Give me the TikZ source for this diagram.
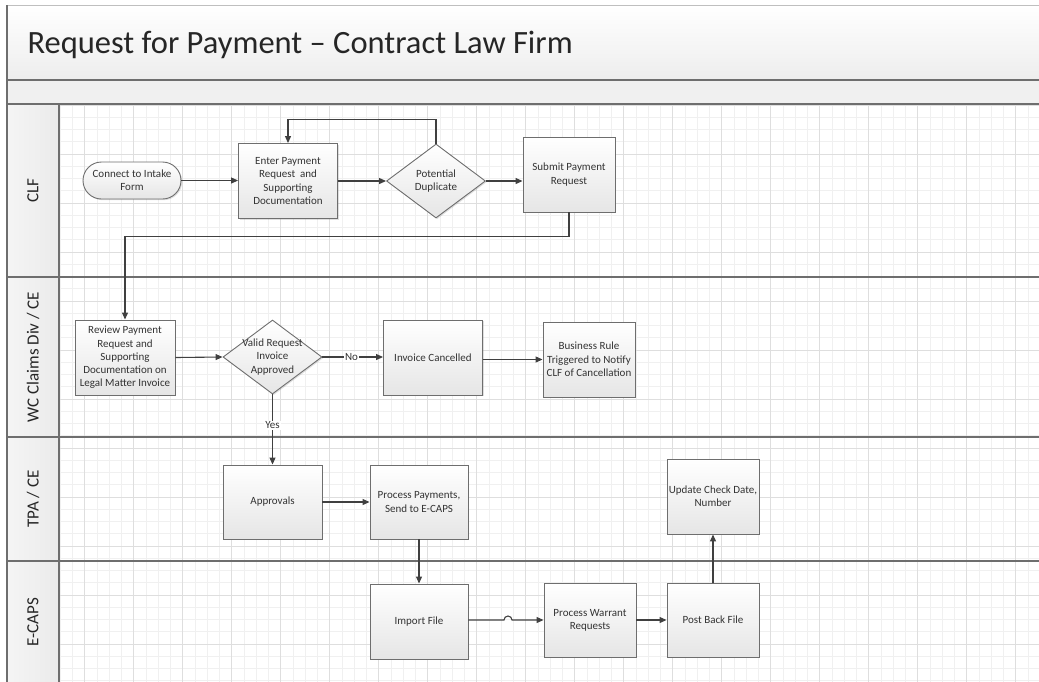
\documentclass[tikz,border=0pt]{standalone}
\usepackage{fontspec}
\setmainfont{Carlito}
\usetikzlibrary{shapes.geometric,shapes.misc,arrows.meta,shadows,calc}
\definecolor{ln}{HTML}{404040}
\definecolor{txt}{HTML}{333333}
\definecolor{frame}{HTML}{6E6E6E}
\definecolor{gminor}{HTML}{F0F0F0}
\definecolor{gmajor}{HTML}{DEDEDE}
\begin{document}
\begin{tikzpicture}[x=1pt,y=-1pt,
  shapebase/.style={draw=frame, line width=0.9pt, top color=white, bottom color=black!10,
    drop shadow={shadow xshift=1.2pt, shadow yshift=-1.2pt, opacity=0.25}},
  box/.style={shapebase, rectangle, minimum width=99, minimum height=75, inner sep=2pt,
    align=center, font=\fontsize{11}{13.3}\selectfont, text=txt},
  stadium/.style={shapebase, rounded rectangle, minimum width=100, minimum height=37,
    inner sep=1pt, align=center, font=\fontsize{11}{13.3}\selectfont, text=txt},
  dia/.style={shapebase, diamond, minimum width=99, minimum height=74, inner sep=0pt},
  dlab/.style={align=center, font=\fontsize{11}{13.3}\selectfont, text=txt},
  arr/.style={draw=ln, line width=1.1pt, -{Triangle[length=7pt,width=6pt]}},
  lane/.style={rotate=90, font=\fontsize{17}{20}\selectfont, text=black!85},
  elab/.style={fill=white, inner sep=1pt, font=\fontsize{11}{13.3}\selectfont, text=txt},
  fr/.style={draw=frame, line width=1.3pt}]
\useasboundingbox (0,0) rectangle (1039,681);
% bands
\fill[top color=white, bottom color=black!7] (7,5) rectangle (1045,80);
\fill[black!6] (7,80) rectangle (1045,104);
\fill[left color=black!4, right color=black!8] (7,104) rectangle (59,690);
% grid
\begin{scope}
\clip (59,104) rectangle (1045,690);
\foreach \i in {0,...,80} {\draw[gminor, line width=0.6pt] (60.2+12.25*\i,104) -- (60.2+12.25*\i,690);}
\foreach \i in {0,...,48} {\draw[gminor, line width=0.6pt] (59,105+12.25*\i) -- (1045,105+12.25*\i);}
\foreach \i in {0,...,20} {\draw[gmajor, line width=0.8pt] (84.7+49*\i,104) -- (84.7+49*\i,690);}
\foreach \i in {0,...,12} {\draw[gmajor, line width=0.8pt] (59,105+49*\i) -- (1045,105+49*\i);}
\end{scope}
% frame
\draw[draw=black!25, line width=0.8pt] (7,5) -- (1045,5);
\draw[fr] (7,5) -- (7,690);
\draw[fr] (7,80) -- (1045,80);
\draw[fr] (7,104) -- (1045,104);
\draw[fr] (7,277) -- (1045,277);
\draw[fr] (7,437) -- (1045,437);
\draw[fr] (7,561) -- (1045,561);
\draw[fr] (59,104) -- (59,690);
% title and lanes
\node[anchor=base west, font=\fontsize{32.5}{38}\selectfont, text=black!85] (title) at (24,53) {Request for Payment – Contract Law Firm};
\node[lane] (l1) at (33,190.5) {CLF};
\node[lane] (l2) at (33,357) {WC Claims Div / CE};
\node[lane] (l3) at (33,499) {TPA / CE};
\node[lane] (l4) at (33,622) {E-CAPS};
% nodes
\node[stadium] (con) at (132,180.5) {Connect to Intake\\Form};
\node[box] (ent) at (288,181) {Enter Payment\\Request~ and\\Supporting\\Documentation};
\node[dia, label={[dlab]center:Potential\\Duplicate}] (dup) at (436,181) {};
\node[box, minimum width=92] (sub) at (569,174.5) {Submit Payment\\Request};
\node[box, minimum width=100, inner sep=0pt] (rev) at (125,357.5) {Review Payment\\Request and\\Supporting\\Documentation on\\Legal Matter Invoice};
\node[dia, label={[dlab]center:Valid Request\\Invoice\\Approved}] (val) at (272.5,357) {};
\node[box] (inv) at (433,357.5) {Invoice Cancelled};
\node[box, minimum width=92, inner sep=0pt] (bus) at (589,359.5) {Business Rule\\Triggered to Notify\\CLF of Cancellation};
\node[box, minimum height=74] (apr) at (272.5,502) {Approvals};
\node[box, minimum width=98, minimum height=74] (pro) at (419,502) {Process Payments,\\Send to E-CAPS};
\node[box, minimum width=98] (imp) at (419,621.5) {Import File};
\node[box, minimum width=92, minimum height=74] (war) at (590,620) {Process Warrant\\Requests};
\node[box, minimum width=92, minimum height=74] (pst) at (713,620) {Post Back File};
\node[box, minimum width=92, inner sep=0pt] (upd) at (713,496.5) {Update Check Date,\\Number};
% connectors
\draw[arr] (con.east) -- (con.east -| ent.west);
\draw[arr] (ent.east) -- (dup.west);
\draw[arr] (dup.north) -- ++(0,-24) -| (ent.north);
\draw[arr] (dup.east) -- (dup.east -| sub.west);
\draw[arr] (sub.south) -- ++(0,24) -| (rev.north);
\draw[arr] (rev.east) -- (val.west);
\draw[arr] (val.east) -- node[elab, pos=0.48] (no) {No} (val.east -| inv.west);
\draw[arr] (bus.west -| inv.east) -- (bus.west);
\draw[arr] (val.south) -- node[elab, pos=0.44] (yes) {Yes} (apr.north);
\draw[arr] (apr.east) -- (apr.east -| pro.west);
\draw[arr] (pro.south) -- (imp.north);
\coordinate (hop) at (508,620);
\draw[arr] (war.west -| imp.east) -- ([xshift=-4pt]hop) arc[start angle=180, end angle=0, radius=4pt] -- (war.west);
\draw[arr] (war.east) -- (pst.west);
\draw[arr] (pst.north) -- (upd.south);
\end{tikzpicture}
\end{document}
